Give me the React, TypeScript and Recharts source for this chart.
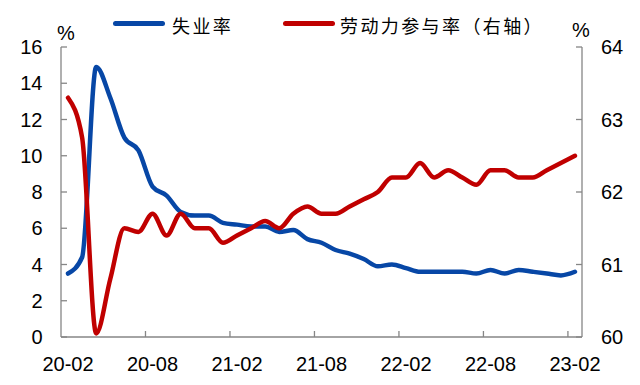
import { LineChart, Line, XAxis, YAxis } from 'recharts';

const months = [
  '20-02', '20-03', '20-04', '20-05', '20-06', '20-07', '20-08', '20-09', '20-10', '20-11', '20-12',
  '21-01', '21-02', '21-03', '21-04', '21-05', '21-06', '21-07', '21-08', '21-09', '21-10', '21-11', '21-12',
  '22-01', '22-02', '22-03', '22-04', '22-05', '22-06', '22-07', '22-08', '22-09', '22-10', '22-11', '22-12',
  '23-01', '23-02',
];

// 失业率 (left axis, %)
const unemployment = [
  3.5, 4.4, 14.9, 13.2, 11.0, 10.3, 8.3, 7.8, 6.9, 6.7, 6.7,
  6.3, 6.2, 6.1, 6.1, 5.8, 5.9, 5.4, 5.2, 4.8, 4.6, 4.3, 3.9,
  4.0, 3.8, 3.6, 3.6, 3.6, 3.6, 3.5, 3.7, 3.5, 3.7, 3.6, 3.5,
  3.4, 3.6,
];

// 劳动力参与率 (right axis, %)
const participation = [
  63.3, 62.75, 60.05, 60.8, 61.5, 61.45, 61.7, 61.4, 61.7, 61.5, 61.5,
  61.3, 61.4, 61.5, 61.6, 61.5, 61.7, 61.8, 61.7, 61.7, 61.8, 61.9, 62.0,
  62.2, 62.2, 62.4, 62.2, 62.3, 62.2, 62.1, 62.3, 62.3, 62.2, 62.2, 62.3,
  62.4, 62.5,
];

const leftTicks = [0, 2, 4, 6, 8, 10, 12, 14, 16];
const rightTicks = [60, 61, 62, 63, 64];

const BLUE = '#0747a6';
const RED = '#c00000';
const AXIS = '#868686';
const NUM_FONT = '"Liberation Sans", Arial, sans-serif';
const CJK_FONT = '"Noto Sans CJK SC", sans-serif';

const data = months.map((m, i) => ({ i, month: m, u: unemployment[i], p: participation[i] }));

// labels every 6 months, tick marks sit between categories
const xTicks = months.flatMap((_, i) => (i % 6 === 0 ? (i > 0 ? [i - 0.5, i] : [i]) : []));

function XTick({ x, y, payload }: any) {
  const v = payload.value;
  if (Number.isInteger(v)) {
    return (
      <text x={x} y={y + 34} textAnchor="middle" fontSize={20} fontFamily={NUM_FONT} fill="#000">
        {months[v]}
      </text>
    );
  }
  return <line x1={x} x2={x} y1={y} y2={y - 6} stroke={AXIS} strokeWidth={1.3} />;
}

function LeftTick({ x, y, payload }: any) {
  return (
    <g>
      <line x1={x} x2={x + 6} y1={y} y2={y} stroke={AXIS} strokeWidth={1.3} />
      <text x={x - 18.5} y={y + 7.2} textAnchor="end" fontSize={20} fontFamily={NUM_FONT} fill="#000">
        {payload.value}
      </text>
    </g>
  );
}

function RightTick({ x, y, payload }: any) {
  return (
    <g>
      <line x1={x} x2={x - 6} y1={y} y2={y} stroke={AXIS} strokeWidth={1.3} />
      <text x={x + 19} y={y + 7.2} textAnchor="start" fontSize={20} fontFamily={NUM_FONT} fill="#000">
        {payload.value}
      </text>
    </g>
  );
}

const legendText = {
  position: 'absolute' as const,
  top: 13,
  fontFamily: CJK_FONT,
  fontSize: 18,
  letterSpacing: 2.4,
  lineHeight: '24px',
  color: '#000',
  whiteSpace: 'nowrap' as const,
};

const legendLine = {
  position: 'absolute' as const,
  top: 21,
  width: 52,
  height: 4.5,
  borderRadius: 3,
};

const pct = {
  position: 'absolute' as const,
  fontFamily: NUM_FONT,
  fontSize: 20,
  lineHeight: '20px',
  color: '#000',
};

export default function App() {
  return (
    <div style={{ position: 'relative', width: 640, height: 385, background: '#fff' }}>
      <style>{`body{margin:0}`}</style>
      <LineChart width={640} height={385} data={data} margin={{ top: 47, right: 0, bottom: 0, left: 0 }}>
        <XAxis
          dataKey="i"
          type="number"
          domain={[-0.5, months.length - 0.5]}
          ticks={xTicks}
          interval={0}
          tick={<XTick />}
          tickLine={false}
          tickSize={0}
          tickMargin={0}
          height={48}
          stroke={AXIS}
          strokeWidth={1.3}
        />
        <YAxis
          yAxisId="l"
          domain={[0, 16]}
          ticks={leftTicks}
          interval={0}
          tick={<LeftTick />}
          tickLine={false}
          tickSize={0}
          tickMargin={0}
          width={61}
          stroke={AXIS}
          strokeWidth={1.3}
        />
        <YAxis
          yAxisId="r"
          orientation="right"
          domain={[60, 64]}
          ticks={rightTicks}
          interval={0}
          tick={<RightTick />}
          tickLine={false}
          tickSize={0}
          tickMargin={0}
          width={58}
          stroke={AXIS}
          strokeWidth={1.3}
        />
        <Line
          yAxisId="l"
          dataKey="u"
          type="monotone"
          stroke={BLUE}
          strokeWidth={4.5}
          strokeLinecap="round"
          strokeLinejoin="round"
          dot={false}
          isAnimationActive={false}
        />
        <Line
          yAxisId="r"
          dataKey="p"
          type="monotone"
          stroke={RED}
          strokeWidth={4.5}
          strokeLinecap="round"
          strokeLinejoin="round"
          dot={false}
          isAnimationActive={false}
        />
      </LineChart>
      <div style={{ ...legendLine, left: 113, background: BLUE }} />
      <div style={{ ...legendText, left: 172 }}>失业率</div>
      <div style={{ ...legendLine, left: 283, background: RED }} />
      <div style={{ ...legendText, left: 340 }}>劳动力参与率（右轴）</div>
      <div style={{ ...pct, left: 57, top: 23 }}>%</div>
      <div style={{ ...pct, left: 572, top: 20 }}>%</div>
    </div>
  );
}
